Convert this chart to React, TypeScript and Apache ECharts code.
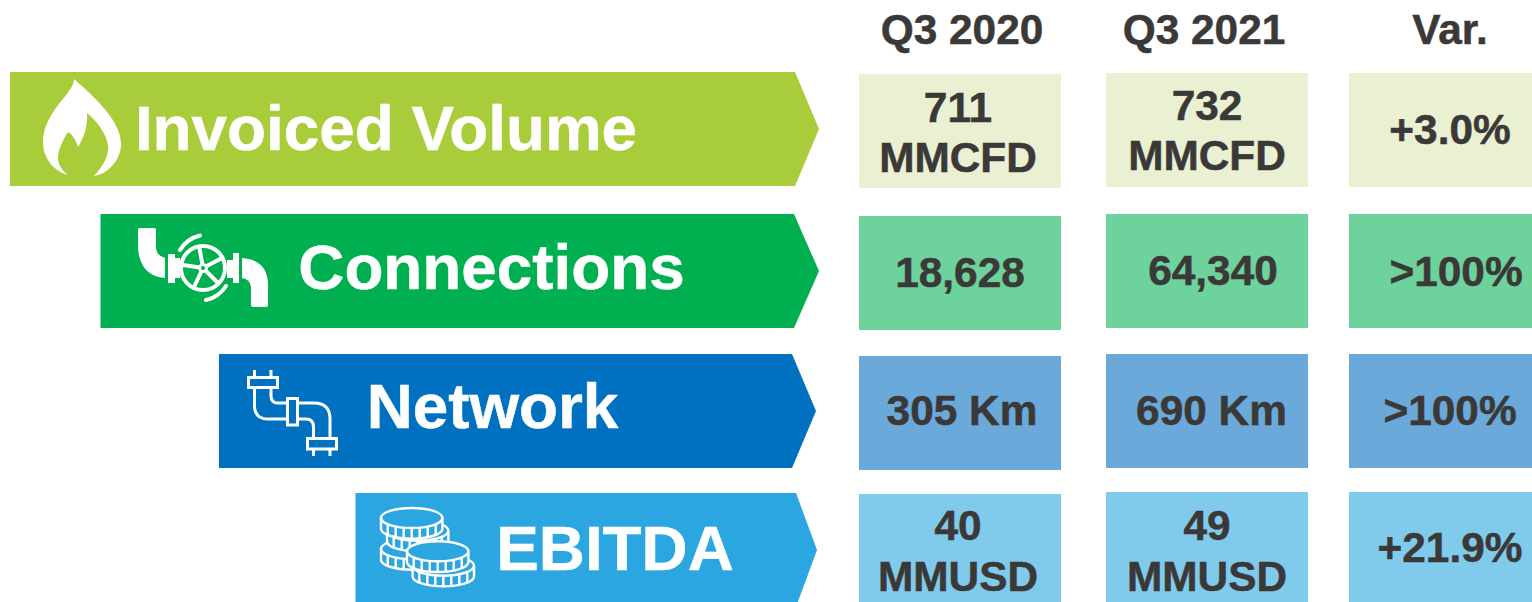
import React, { useEffect, useRef } from "react";
import * as echarts from "echarts";

const columnHeaders = ["Q3 2020", "Q3 2021", "Var."];
const metrics = ["Invoiced Volume", "Connections", "Network", "EBITDA"];
const q32020 = ["711\nMMCFD", "18,628", "305 Km", "40\nMMUSD"];
const q32021 = ["732\nMMCFD", "64,340", "690 Km", "49\nMMUSD"];
const variation = ["+3.0%", ">100%", ">100%", "+21.9%"];

const FONT = '"Liberation Sans", Arial, sans-serif';
const DARK = "#3B3838";
const arrowColors = ["#A9CC3A", "#00B050", "#0070C0", "#2CA6E0"];
const cellColors = ["#EAF1D3", "#6DD29B", "#6AA9D9", "#80CBEC"];

const arrowBoxes = [
  { left: 10, right: 795, tip: 819, top: 72, bottom: 186 },
  { left: 100.5, right: 794, tip: 819, top: 214, bottom: 328 },
  { left: 219, right: 792, tip: 816, top: 354, bottom: 468 },
  { left: 355.5, right: 796, tip: 817, top: 493, bottom: 607 },
];
const titleCenters = [
  { x: 386, y: 128 },
  { x: 491.5, y: 267 },
  { x: 492.5, y: 406 },
  { x: 615, y: 548 },
];
const columnBoxes = [
  { x: 859, width: 202, tops: [74, 216, 356, 494] },
  { x: 1106, width: 202, tops: [73, 214, 354, 492] },
  { x: 1349, width: 183, tops: [73, 214, 354, 492] },
];
const CELL_H = 114;
const rowLineHeights = [50, 50, 50, 51];
const headerCenters = [962, 1204, 1450];
const valueCenters = [
  [{ x: 958, y: 132 }, { x: 960, y: 272.5 }, { x: 962, y: 410.5 }, { x: 958, y: 550.5 }],
  [{ x: 1207, y: 130 }, { x: 1213, y: 270.5 }, { x: 1211.5, y: 410.5 }, { x: 1207, y: 550.5 }],
  [{ x: 1450, y: 129.5 }, { x: 1456, y: 271.5 }, { x: 1450, y: 410.5 }, { x: 1450, y: 547.5 }],
];

const flame =
  "M74 79 C88 92 121 118 121 144 C121 160 108 174 94 176 C104 165 109 155 108 146 C107 134 96 120 87 113 C88 125 84 138 78 147 C76 140 72 134 68 132 C63 140 58 150 58 158 C58 164 62 171 68 175 C56 172 43 160 43 142 C43 122 58 105 67 94 C71 88 74 84 74 79 Z";

const valveFill =
  "M140 228 L154 228 Q156 228 156 230 L156 248 Q157 256 165 258 L165 278 Q140 276 138 248 L138 230 Q138 228 140 228 Z " +
  "M168 254 L175 254 L175 258 L180 258 L180 278 L175 278 L175 283 L168 283 Z " +
  "M233 253 L239 253 L239 283 L233 283 L233 278 L227 278 L227 260 L233 260 Z " +
  "M242 258 Q268 260 268 285 L268 305 Q268 307 266 307 L253 307 Q251 307 251 305 L251 287 Q250 279 242 278 Z";

const wheelStroke =
  "M181 268 A22 22 0 1 1 225 268 A22 22 0 1 1 181 268 Z " +
  "M203 268 L199.5 248 M203 268 L221 258.5 M203 268 L218 283 M203 268 L194 287 M203 268 L183 265 " +
  "M180 250 A32 32 0 0 1 200 235.5 M226 286 A32 32 0 0 1 206 300";

const pipes =
  "M248.5 377.5 H277.5 V387.5 H248.5 Z M254.5 370 V377.5 M271 370 V377.5 " +
  "M254.5 387.5 V406 Q255 419 268 419 H287.5 M271 387.5 V396 Q271 403 278 403 H287.5 " +
  "M287.5 398.5 H297.5 V425 H287.5 Z " +
  "M297.5 403 H314 Q330 403 330 419 V438 M297.5 419 H306 Q313.5 419 313.5 427 V438 " +
  "M307.5 438.5 H336.5 V449 H307.5 Z M313.5 449 V456 M330 449 V456";

const coinTicks = [-24, -16, -8, 0, 8, 16, 24];
const coinBody =
  "M-30.7 0 C-30.7 -5.5 -17 -10 0 -10 C17 -10 30.7 -5.5 30.7 0 L30.7 10.7 C30.7 16.2 17 20.7 0 20.7 C-17 20.7 -30.7 16.2 -30.7 10.7 Z";
const coinLines =
  "M-30.7 0 C-30.7 5.5 -17 10 0 10 C17 10 30.7 5.5 30.7 0 " +
  coinTicks
    .map((t) => {
      const e = 10 * Math.sqrt(1 - (t * t) / (30.7 * 30.7));
      return `M${t} ${e.toFixed(1)} L${t} ${(e + 10.7).toFixed(1)}`;
    })
    .join(" ");
const coinPlaces = [
  { x: 411.7, y: 549 },
  { x: 417.7, y: 530.7 },
  { x: 411.7, y: 518 },
  { x: 443.3, y: 565.7 },
  { x: 437.7, y: 551.3 },
];

echarts.graphic.registerShape("flameIcon", echarts.graphic.extendPath(flame, {}));
echarts.graphic.registerShape("valveIcon", echarts.graphic.extendPath(valveFill, {}));
echarts.graphic.registerShape("wheelIcon", echarts.graphic.extendPath(wheelStroke, {}));
echarts.graphic.registerShape("pipeIcon", echarts.graphic.extendPath(pipes, {}));
echarts.graphic.registerShape("coinBody", echarts.graphic.extendPath(coinBody, {}));
echarts.graphic.registerShape("coinLines", echarts.graphic.extendPath(coinLines, {}));

function text(content: string, x: number, y: number, size: number, fill: string, lineHeight?: number) {
  return {
    type: "text",
    x,
    y,
    z: 30,
    style: {
      text: content,
      fill,
      stroke: fill,
      lineWidth: 0.5,
      fontFamily: FONT,
      fontWeight: "bold",
      fontSize: size,
      lineHeight: lineHeight ?? Math.round(size * 1.15),
      textAlign: "center",
      textVerticalAlign: "middle",
    },
  };
}

function buildElements() {
  const els: any[] = [];
  metrics.forEach((name, i) => {
    const b = arrowBoxes[i];
    els.push({
      type: "polygon",
      shape: {
        points: [
          [b.left, b.top],
          [b.right, b.top],
          [b.tip, (b.top + b.bottom) / 2],
          [b.right, b.bottom],
          [b.left, b.bottom],
        ],
      },
      style: { fill: arrowColors[i] },
    });
    els.push(text(name, titleCenters[i].x, titleCenters[i].y, 63.8, "#FFFFFF"));
  });
  [q32020, q32021, variation].forEach((column, c) => {
    const box = columnBoxes[c];
    column.forEach((label, r) => {
      els.push({
        type: "rect",
        shape: { x: box.x, y: box.tops[r], width: box.width, height: CELL_H },
        style: { fill: cellColors[r] },
      });
      els.push(text(label, valueCenters[c][r].x, valueCenters[c][r].y, 42.4, DARK, rowLineHeights[r]));
    });
  });
  columnHeaders.forEach((h, i) => els.push(text(h, headerCenters[i], 29, 42.4, DARK)));

  const white = { fill: "#FFFFFF" };
  els.push({ type: "flameIcon", z: 5, style: white });
  els.push({ type: "valveIcon", z: 5, style: white });
  els.push({ type: "wheelIcon", z: 5, style: { fill: "none", stroke: "#FFFFFF", lineWidth: 4, lineCap: "round" } });
  els.push({ type: "circle", z: 6, shape: { cx: 203, cy: 268, r: 5 }, style: white });
  els.push({ type: "circle", z: 7, shape: { cx: 203, cy: 268, r: 2 }, style: { fill: arrowColors[1] } });
  els.push({ type: "pipeIcon", z: 5, style: { fill: "none", stroke: "#FFFFFF", lineWidth: 3 } });
  coinPlaces.forEach((p, i) => {
    const z = 10 + i * 2;
    els.push({
      type: "coinBody",
      z,
      x: p.x,
      y: p.y,
      style: { fill: arrowColors[3], stroke: "#FFFFFF", lineWidth: 2.4 },
    });
    els.push({
      type: "coinLines",
      z: z + 1,
      x: p.x,
      y: p.y,
      style: { fill: "none", stroke: "#FFFFFF", lineWidth: 2.4 },
    });
  });
  return els;
}

export default function App() {
  const ref = useRef<HTMLDivElement>(null);
  useEffect(() => {
    document.body.style.margin = "0";
    const chart = echarts.init(ref.current!, null, { renderer: "svg" });
    chart.setOption({
      animation: false,
      backgroundColor: "#FFFFFF",
      graphic: { elements: buildElements() },
    });
    return () => chart.dispose();
  }, []);
  return <div ref={ref} style={{ position: "fixed", left: 0, top: 0, width: 1532, height: 602 }} />;
}
